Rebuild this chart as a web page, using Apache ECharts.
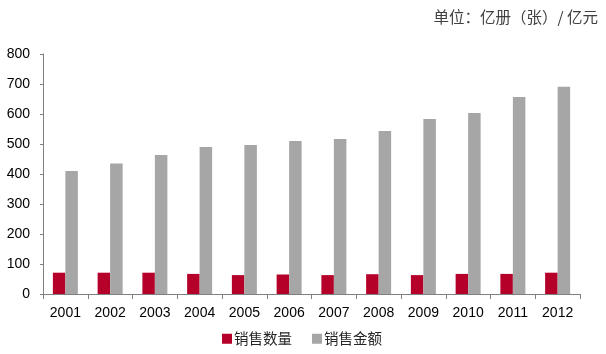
<!DOCTYPE html>
<html><head><meta charset="utf-8">
<script src="https://cdn.jsdelivr.net/npm/echarts@6/dist/echarts.min.js"></script>
<style>html,body{margin:0;padding:0;background:#fff}#c{width:606px;height:354px}</style>
</head><body><div id="c"></div>
<script>
const categories = ['2001','2002','2003','2004','2005','2006','2007','2008','2009','2010','2011','2012'];
const salesVolume = [71, 71, 71, 67, 63, 65, 63, 66, 63, 67, 67, 71];
const salesAmount = [410, 435, 463, 490, 497, 510, 517, 543, 583, 603, 657, 691];
const yTicks = [0, 100, 200, 300, 400, 500, 600, 700, 800];
const unitText = '单位：亿册（张）/ 亿元';
const seriesNames = ['销售数量', '销售金额'];

const chart = echarts.init(document.getElementById('c'), null, {renderer: 'canvas'});
const font = '"Liberation Sans", Arial, sans-serif';
const cjk = '"Noto Sans CJK SC", sans-serif';
chart.setOption({
  animation: false,
  textStyle: {fontFamily: font},
  title: {
    text: unitText, right: 3, top: 4,
    textStyle: {fontSize: 15.5, fontWeight: 'normal', color: '#404040', fontFamily: cjk}
  },
  legend: {
    bottom: 3, left: 217, itemWidth: 10, itemHeight: 10, itemGap: 20,
    icon: 'rect',
    textStyle: {fontSize: 14.5, color: '#262626', fontFamily: cjk, padding: [0,0,0,-3]},
    data: seriesNames
  },
  grid: {left: 43, right: 26, top: 54, bottom: 60, containLabel: false},
  xAxis: {
    type: 'category', data: categories,
    axisLine: {lineStyle: {color: '#808080'}},
    axisTick: {show: true, length: 5, lineStyle: {color: '#808080'}},
    axisLabel: {fontSize: 14, color: '#000', margin: 12, fontFamily: font}
  },
  yAxis: {
    type: 'value', min: yTicks[0], max: yTicks[yTicks.length-1], interval: 100,
    axisLine: {show: true, lineStyle: {color: '#808080'}},
    axisTick: {show: true, length: 3, lineStyle: {color: '#808080'}},
    splitLine: {show: false},
    axisLabel: {fontSize: 14, color: '#000', margin: 13, fontFamily: font}
  },
  series: [
    {name: seriesNames[0], type: 'bar', data: salesVolume, barWidth: 12.5, barGap: '0%', itemStyle: {color: '#B5002A'}},
    {name: seriesNames[1], type: 'bar', data: salesAmount, barWidth: 12.5, barGap: '0%', itemStyle: {color: '#A6A6A6'}}
  ]
});
</script></body></html>
